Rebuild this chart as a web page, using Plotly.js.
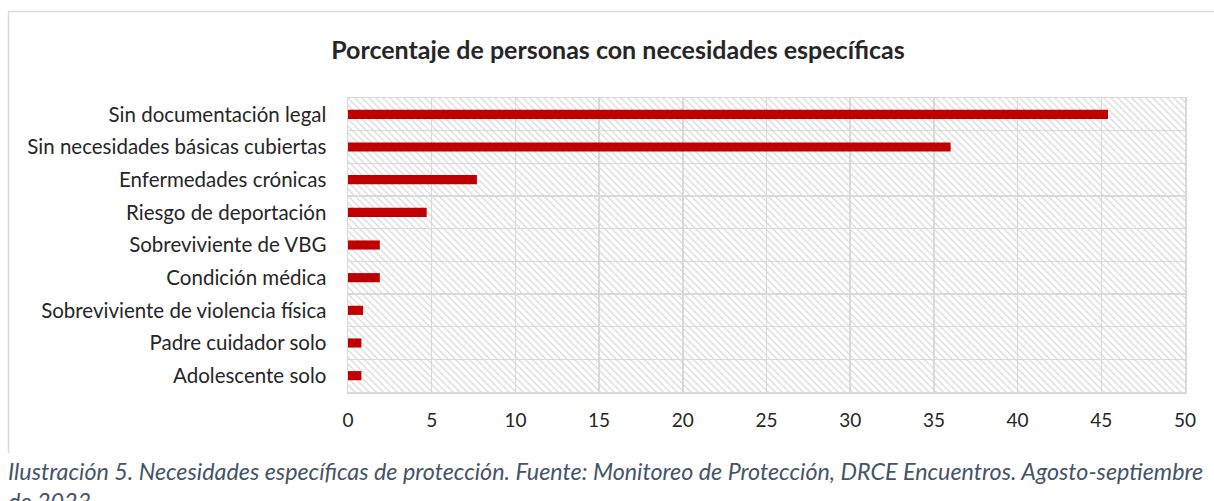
<!DOCTYPE html>
<html>
<head>
<meta charset="utf-8">
<script src="https://cdn.plot.ly/plotly-3.0.1.min.js"></script>
<style>
  html, body { margin: 0; padding: 0; background: #ffffff; }
  #chart { width: 1214px; height: 501px; }
</style>
</head>
<body>
<div id="chart"></div>
<script>
// ---- Data ----
const categories = [
  "Sin documentación legal",
  "Sin necesidades básicas cubiertas",
  "Enfermedades crónicas",
  "Riesgo de deportación",
  "Sobreviviente de VBG",
  "Condición médica",
  "Sobreviviente de violencia física",
  "Padre cuidador solo",
  "Adolescente solo"
];
const percentages = [45.4, 36.0, 7.7, 4.7, 1.9, 1.9, 0.9, 0.8, 0.8];
const xTickValues = [0, 5, 10, 15, 20, 25, 30, 35, 40, 45, 50];

const chartTitle = "Porcentaje de personas con necesidades específicas";
const captionText = "Ilustración 5. Necesidades específicas de protección. Fuente: Monitoreo de Protección, DRCE Encuentros. Agosto-septiembre<br>de 2023";

// ---- Layout geometry ----
const W = 1214, H = 501;
const M = { l: 348, r: 29, t: 98, b: 109 };
const PW = W - M.l - M.r, PH = H - M.t - M.b;
const px2x = p => (p - M.l) / PW;
const px2y = p => (H - M.b - p) / PH;

// hatch background for the plot area
const step = 7;
const hatchSvg =
  '<svg xmlns="http://www.w3.org/2000/svg" width="' + PW + '" height="' + PH + '">' +
  '<defs><pattern id="h" patternUnits="userSpaceOnUse" width="' + step + '" height="' + step + '">' +
  '<path d="M0,0 L' + step + ',' + step + ' M-2,' + (step - 2) + ' L2,' + (step + 2) + ' M' + (step - 2) + ',-2 L' + (step + 2) + ',2" stroke="#dedede" stroke-width="1.4"/>' +
  '</pattern></defs><rect width="100%" height="100%" fill="#ffffff"/><rect width="100%" height="100%" fill="url(#h)"/></svg>';
const hatchUri = 'data:image/svg+xml;base64,' + btoa(hatchSvg);

const font = "Lato, 'Liberation Sans', sans-serif";

const trace = {
  type: "bar",
  orientation: "h",
  y: categories,
  x: percentages,
  marker: { color: "#C00000" },
  hoverinfo: "x+y"
};

const layout = {
  width: W,
  height: H,
  margin: M,
  paper_bgcolor: "#ffffff",
  plot_bgcolor: "#ffffff",
  showlegend: false,
  bargap: 0.72,
  font: { family: font, size: 19, color: "#262626" },
  title: {
    text: "<b>" + chartTitle + "</b>",
    font: { family: font, size: 25, color: "#262626" },
    xref: "container", x: 618 / W, xanchor: "center",
    yref: "container", y: 1 - 50 / H, yanchor: "middle"
  },
  xaxis: {
    range: [0, 50],
    tickvals: xTickValues,
    ticktext: xTickValues.map(String),
    showgrid: true,
    gridcolor: "#d9d9d9",
    gridwidth: 1.5,
    zeroline: false,
    showline: true,
    linecolor: "#d9d9d9",
    linewidth: 1.5,
    mirror: true,
    ticks: "",
    ticklabelstandoff: 11,
    tickfont: { family: font, size: 19, color: "#262626" },
    fixedrange: true
  },
  yaxis: {
    type: "category",
    autorange: "reversed",
    tickson: "boundaries",
    showgrid: true,
    gridcolor: "#d9d9d9",
    gridwidth: 1.5,
    showline: true,
    linecolor: "#d9d9d9",
    linewidth: 1.5,
    mirror: true,
    ticks: "",
    ticklabelstandoff: 16,
    tickfont: { family: font, size: 20.5, color: "#262626" },
    fixedrange: true
  },
  images: [{
    source: hatchUri,
    xref: "paper", yref: "paper",
    x: 0, y: 1, sizex: 1, sizey: 1,
    xanchor: "left", yanchor: "top",
    sizing: "stretch",
    layer: "below"
  }],
  shapes: [
    { type: "line", xref: "paper", yref: "paper",
      x0: px2x(8.5), x1: px2x(W + 5), y0: px2y(11.5), y1: px2y(11.5),
      line: { color: "#d9d9d9", width: 1.5 } },
    { type: "line", xref: "paper", yref: "paper",
      x0: px2x(8.5), x1: px2x(8.5), y0: px2y(11.5), y1: px2y(453),
      line: { color: "#d9d9d9", width: 1.5 } }
  ],
  annotations: [{
    text: "<i>" + captionText + "</i>",
    xref: "paper", yref: "paper",
    x: px2x(6), y: px2y(455),
    xanchor: "left", yanchor: "top",
    align: "left",
    showarrow: false,
    font: { family: font, size: 23.3, color: "#44546A" }
  }]
};

Plotly.newPlot("chart", [trace], layout, { displayModeBar: false, staticPlot: true });
</script>
</body>
</html>
